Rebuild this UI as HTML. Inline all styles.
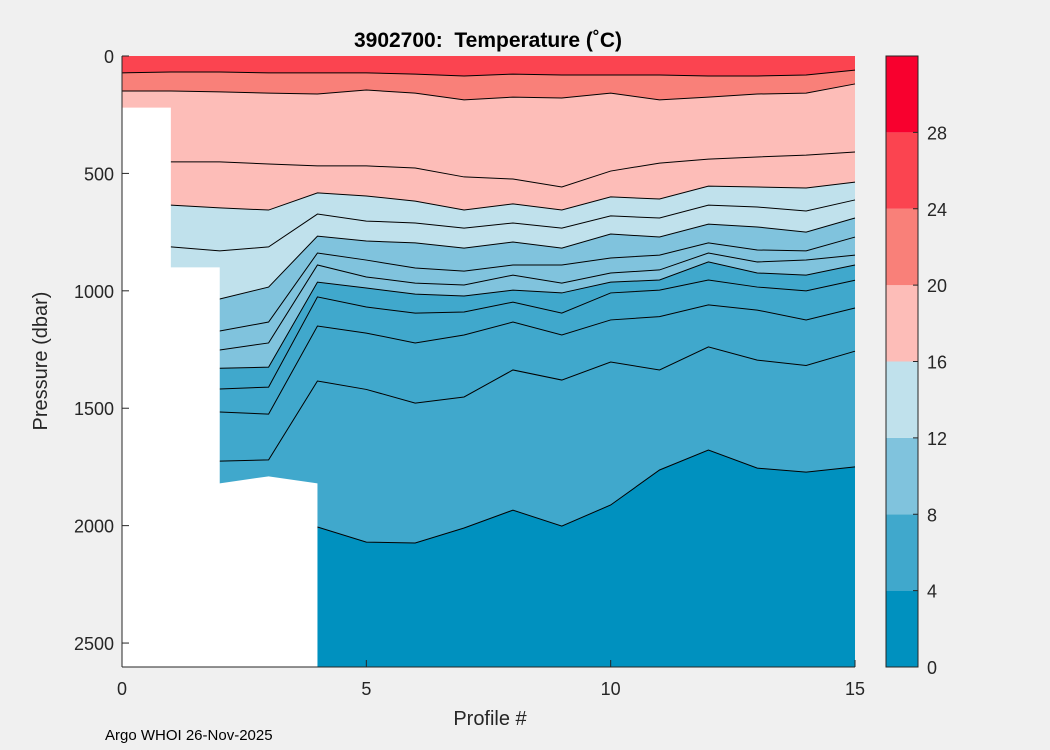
<!DOCTYPE html>
<html><head><meta charset="utf-8"><style>
body{margin:0;background:#f0f0f0;}
svg{display:block;font-family:"Liberation Sans","DejaVu Sans",sans-serif;}
</style></head><body>
<svg id="chart" width="1050" height="750" viewBox="0 0 1050 750">
<rect x="0" y="0" width="1050" height="750" fill="#f0f0f0"/>
<g id="plot"></g>
<g id="axes"></g>
<g id="cbar"></g>
<text x="488" y="47" text-anchor="middle" font-size="21" font-weight="bold" fill="#000" xml:space="preserve">3902700:  Temperature (˚C)</text>
<text x="490" y="725" text-anchor="middle" font-size="20" fill="#262626">Profile #</text>
<text transform="translate(47,361) rotate(-90)" text-anchor="middle" font-size="20" fill="#262626">Pressure (dbar)</text>
<text x="105" y="740" font-size="15" fill="#000">Argo WHOI 26-Nov-2025</text>
</svg>
<script>
const profiles=[0,1,2,3,4,5,6,7,8,9,10,11,12,13,14,15];
const L24=[72,68,68,72,72,72,77,85,77,81,81,81,85,85,81,60];
const L20=[149,149,153,158,162,145,158,187,175,179,158,187,175,162,158,119];
const L18=[451,451,451,460,468,468,477,515,524,558,490,456,439,430,422,409];
const L16=[635,635,647,656,583,596,618,656,630,656,600,609,554,558,562,537];
const L14=[813,813,830,813,673,703,711,733,711,733,681,690,635,643,660,613];
const L12=[1035,1035,1035,984,767,788,796,818,792,818,758,771,716,728,750,690];
const L11=[1171,1171,1171,1133,839,869,903,916,890,890,860,848,796,826,830,771];
const L10=[1252,1252,1252,1222,890,941,967,975,933,967,924,911,839,877,869,848];
const L8=[1330,1330,1330,1325,963,988,1014,1022,997,1009,963,954,877,924,933,890];
const L7=[1418,1418,1418,1410,1026,1069,1095,1090,1048,1095,1009,997,954,984,1000,955];
const L6=[1516,1516,1516,1525,1150,1180,1222,1188,1133,1188,1124,1110,1060,1082,1124,1073];
const L5=[1725,1725,1725,1720,1384,1420,1478,1452,1337,1380,1303,1337,1239,1295,1318,1257];
const L4=[2600,2600,2600,2600,2006,2070,2074,2010,1934,2002,1912,1763,1678,1755,1772,1750];
const dataBottom=[220,900,1820,1790,1820,2600,2600,2600,2600,2600,2600,2600,2600,2600,2600,2600];
const cbarTicks=[0,4,8,12,16,20,24,28];
const xTicks=[0,5,10,15];
const yTicks=[0,500,1000,1500,2000,2500];

const X0=122,X1=855,Y0=56,Y1=667,PMAX=2602;
const xs=v=>X0+(v-0)/15*(X1-X0);
const ys=v=>Y0+v/PMAX*(Y1-Y0);
const NS='http://www.w3.org/2000/svg';
function mk(tag,attrs,parent){const e=document.createElementNS(NS,tag);for(const k in attrs)e.setAttribute(k,attrs[k]);parent.appendChild(e);return e;}
const plot=document.getElementById('plot');
const axes=document.getElementById('axes');
const cbar=document.getElementById('cbar');
const bandColors=['#0091bf','#40a8cc','#80c3dd','#c0e1ec','#fdbdb8','#f98079','#fb4450','#f8002e'];

let r=mk('rect',{x:X0,y:Y0,width:X1-X0,height:Y1-Y0,fill:bandColors[6]},plot);


const fills=[[L24,bandColors[5],'band-20-24'],[L20,bandColors[4],'band-16-20'],[L16,bandColors[3],'band-12-16'],[L12,bandColors[2],'band-8-12'],[L8,bandColors[1],'band-4-8'],[L4,bandColors[0],'band-0-4']];
fills.forEach(([arr,col,name])=>{
  let d='M'+xs(profiles[0])+','+ys(arr[0]);
  profiles.forEach((p,i)=>{d+=' L'+xs(p)+','+ys(arr[i]);});
  d+=' L'+X1+','+Y1+' L'+X0+','+Y1+' Z';
  const e=mk('path',{d:d,fill:col},plot);
  
  
});
const lines=[[L24,'24'],[L20,'20'],[L18,'18'],[L16,'16'],[L14,'14'],[L12,'12'],[L11,'11'],[L10,'10'],[L8,'8'],[L7,'7'],[L6,'6'],[L5,'5'],[L4,'4']];
lines.forEach(([arr,lv])=>{
  const pts=profiles.map((p,i)=>xs(p)+','+ys(arr[i])).join(' ');
  const e=mk('polyline',{points:pts,fill:'none',stroke:'#000','stroke-width':1},plot);
  
  
});
let md='M'+xs(0)+','+ys(dataBottom[0]);
md+=' L'+xs(1)+','+ys(dataBottom[0])+' L'+xs(1)+','+ys(dataBottom[1])+' L'+xs(2)+','+ys(dataBottom[1]);
for(let i=2;i<=4;i++) md+=' L'+xs(profiles[i])+','+ys(dataBottom[i]);
md+=' L'+xs(4)+','+Y1+' L'+X0+','+Y1+' Z';
let m=mk('path',{d:md,fill:'#fff'},plot);



let a=mk('line',{x1:X0,y1:Y0,x2:X0,y2:Y1,stroke:'#262626','stroke-width':1},axes);


a=mk('line',{x1:X0,y1:Y1,x2:X1,y2:Y1,stroke:'#262626','stroke-width':1},axes);


yTicks.forEach(v=>{
  const t=mk('line',{x1:X0,y1:ys(v),x2:X0+7,y2:ys(v),stroke:'#262626'},axes);
  
  
  const l=mk('text',{x:X0-8,y:ys(v)+7,'text-anchor':'end','font-size':18,fill:'#262626'},axes);
  l.textContent=v;
  
  
});
xTicks.forEach(v=>{
  const t=mk('line',{x1:xs(v),y1:Y1,x2:xs(v),y2:Y1-7,stroke:'#262626'},axes);
  
  
  const l=mk('text',{x:xs(v),y:Y1+28,'text-anchor':'middle','font-size':18,fill:'#262626'},axes);
  l.textContent=v;
  
  
});
const CX=886,CW=32,CMAX=32;
const cy=v=>Y1-v/CMAX*(Y1-Y0);
bandColors.forEach((c,i)=>{
  const e=mk('rect',{x:CX,y:cy((i+1)*4),width:CW,height:cy(i*4)-cy((i+1)*4),fill:c},cbar);
  
  
});
let b=mk('rect',{x:CX,y:Y0,width:CW,height:Y1-Y0,fill:'none',stroke:'#262626','stroke-width':1},cbar);


cbarTicks.forEach(v=>{
  const t=mk('line',{x1:CX+CW-5,y1:cy(v),x2:CX+CW,y2:cy(v),stroke:'#262626'},cbar);
  
  
  const l=mk('text',{x:CX+CW+9,y:cy(v)+7,'font-size':18,fill:'#262626'},cbar);
  l.textContent=v;
  
  
});
</script>
</body></html>
